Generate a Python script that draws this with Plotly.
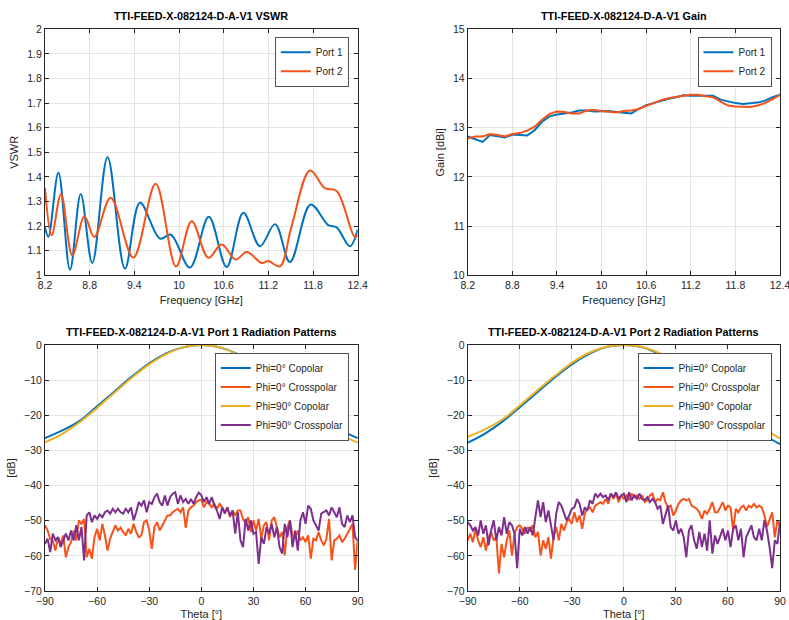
import numpy as np
import plotly.graph_objects as go

# ---------------- DATA ----------------
# VSWR (frequency GHz, VSWR) - read at curve extrema
vswr_p1_f = [8.20, 8.245, 8.38, 8.536, 8.68, 8.835, 9.04, 9.274, 9.476, 9.744, 9.89, 10.147,
             10.40, 10.64, 10.864, 11.088, 11.29, 11.49, 11.768, 12.005, 12.117, 12.296, 12.40]
vswr_p1 = [1.194, 1.157, 1.417, 1.023, 1.33, 1.05, 1.48, 1.027, 1.295, 1.149, 1.165, 1.031,
           1.238, 1.034, 1.254, 1.118, 1.208, 1.054, 1.288, 1.204, 1.195, 1.118, 1.186]
vswr_p2_f = [8.20, 8.29, 8.415, 8.567, 8.73, 8.862, 9.082, 9.386, 9.686, 9.96, 10.17, 10.394,
             10.573, 10.76, 10.91, 11.11, 11.2, 11.356, 11.51, 11.76, 11.96, 12.117, 12.36, 12.40]
vswr_p2 = [1.356, 1.163, 1.33, 1.081, 1.24, 1.156, 1.315, 1.072, 1.372, 1.036, 1.22, 1.071,
           1.125, 1.064, 1.095, 1.05, 1.058, 1.036, 1.197, 1.426, 1.354, 1.343, 1.156, 1.162]

# Gain (dBi) on a 0.1 GHz grid
gain_f = [round(8.2 + 0.1 * i, 1) for i in range(43)]
gain_p1 = [12.82, 12.76, 12.71, 12.85, 12.83, 12.80, 12.86, 12.85, 12.84, 12.95, 13.12, 13.23,
           13.27, 13.29, 13.31, 13.35, 13.35, 13.33, 13.34, 13.34, 13.32, 13.30, 13.29, 13.38,
           13.46, 13.50, 13.55, 13.59, 13.62, 13.66, 13.65, 13.65, 13.65, 13.65, 13.57, 13.53,
           13.50, 13.48, 13.49, 13.51, 13.55, 13.62, 13.67]
gain_p2 = [12.78, 12.82, 12.82, 12.87, 12.85, 12.82, 12.87, 12.89, 12.94, 13.02, 13.16, 13.28,
           13.33, 13.32, 13.29, 13.29, 13.35, 13.36, 13.34, 13.33, 13.31, 13.34, 13.35, 13.38,
           13.44, 13.50, 13.56, 13.60, 13.63, 13.65, 13.67, 13.67, 13.64, 13.62, 13.53, 13.45,
           13.43, 13.43, 13.42, 13.45, 13.50, 13.58, 13.67]

# Copolar patterns on a 10 deg grid
theta_co = list(range(-90, 91, 10))
p1_phi0_co = [-26.5, -24.3, -21.6, -17.4, -13.2, -9.0, -5.2, -2.3, -0.6, 0, -0.6, -2.4, -5.3,
              -9.1, -13.3, -17.5, -21.5, -24.2, -26.5]
p1_phi90_co = [-27.7, -25.3, -22.0, -17.9, -13.6, -9.3, -5.5, -2.5, -0.6, 0, -0.6, -2.5, -5.5,
               -9.3, -13.6, -17.9, -22.0, -25.4, -27.8]
p2_phi0_co = [-27.8, -25.2, -21.8, -17.7, -13.5, -9.3, -5.5, -2.5, -0.6, 0, -0.6, -2.5, -5.5,
              -9.3, -13.5, -17.7, -21.8, -25.4, -28.2]
p2_phi90_co = [-26.1, -24.0, -21.2, -17.2, -13.0, -8.9, -5.1, -2.2, -0.5, 0, -0.5, -2.2, -5.1,
               -8.9, -13.0, -17.2, -21.2, -23.8, -26.6]

# Crosspolar patterns on a 1.5 deg grid (-90..90)
theta_x = [round(-90 + 1.5 * i, 1) for i in range(121)]
p1_phi0_x = [-51.3, -52.8, -55.2, -55.7, -58.5, -54.7, -56.6, -54.2, -60.4, -57.5, -56.1, -52.8,
             -55.6, -49.9, -50.9, -49.5, -60.4, -58, -60.8, -54.7, -52.3, -55.6, -50.9, -54.2,
             -58.5, -55.1, -53.2, -51.3, -52.8, -52, -53.2, -54.2, -52.3, -53.7, -50.9, -53.2,
             -54.7, -54.2, -50.4, -49.9, -52.8, -58, -51.8, -50.4, -52.8, -51.3, -49.9, -48.5,
             -48.5, -47.6, -47.1, -46.6, -47.6, -46.2, -52, -47.1, -46.2, -45.7, -44.7, -44.2,
             -44.0,
             -46.2, -44.7, -45.2, -46.2, -45.2, -46.6, -45.2, -46.2, -47.6, -46.2, -49, -47.1,
             -48.5, -47.1, -47.1, -49.5, -50.9, -49, -53.2, -49.9, -52.8, -49.5, -55.1, -51.3,
             -50.4, -55.6, -49.9, -49, -51.8, -54.7, -53.2, -59.9, -51.8, -49.9, -54.2, -55.1,
             -52.8, -55.6, -54.7, -56.1, -54.2, -60.8, -55.1, -55.6, -53.2, -55.6, -57, -55.1,
             -49.5, -61.3, -55.6, -55.1, -54.2, -56.1, -55.1, -53.7, -52.3, -50.9, -64.0, -55.5]
p1_phi90_x = [-56.6, -55.1, -58.9, -53.7, -55.6, -54.7, -57.5, -55.6, -53.7, -55.6, -52.8, -55.6,
              -51.3, -55.6, -51.8, -61.3, -48.5, -47.6, -50.4, -48.5, -49.5, -48.2, -49, -47.6,
              -47.1, -48, -46.6, -47.6, -46.6, -47.6, -48, -46.6, -47.6, -46.2, -49.9, -47.6,
              -44.7, -45.7, -44.2, -47.6, -44.7, -45.2, -43.3, -42.3, -44.7, -45.7, -42.8, -45.7,
              -43.3, -42.3, -41.9, -45.2, -42.8, -44.7, -43.8, -45.2, -43.8, -45.2, -43.3, -42,
              -42.8,
              -44.7, -43.3, -45.2, -43.3, -45.7, -47.1, -49.5, -46.2, -48, -46.2, -48.5, -47.1,
              -53.7, -47.6, -55.6, -57.5, -49.5, -52.8, -49.9, -53.7, -53.2, -62.3, -54.7, -56.6,
              -51.8, -53.7, -50.9, -54.7, -51.8, -57.5, -59.4, -50.9, -54.7, -49.9, -57.5, -52.8,
              -58.5, -49.9, -47.6, -50.9, -45.7, -46.6, -49.9, -51.3, -52.8, -48, -47.6, -47.1,
              -48.5, -46.2, -47.6, -49, -46.2, -50.9, -51.8, -48.5, -50.4, -48.5, -54.7, -55.6]
p2_phi0_x = [-55.6, -53.7, -56.1, -52.3, -55.6, -57.5, -54.7, -58.5, -54.7, -53.2, -55.6, -54.7,
             -65.0, -56.6, -60.4, -55.6, -52.8, -59.9, -53.7, -51.8, -51.3, -52.3, -53.7, -51.8,
             -52.8, -51.3, -54.7, -53.2, -59.9, -55.6, -58, -54.7, -60.8, -54.7, -51.8, -55.6,
             -50.9, -52.8, -50.4, -49.5, -50.9, -47.6, -50.4, -48.5, -52.3, -48, -46.6, -46.2,
             -47.6, -45.7, -45.2, -44.7, -45.2, -43.8, -45.2, -42.3, -43.8, -42.3, -44.7, -42.8,
             -43.8,
             -42.8, -44.2, -42.3, -43.3, -42.8, -43.8, -42.8, -44.7, -44.2, -42.8, -42.3, -44.7,
             -43.8, -44.2, -41.9, -44.7, -46.2, -45.7, -48.5, -47.1, -45.2, -44.2, -43.8, -44.2,
             -43.8, -45.7, -46.2, -46.6, -47.6, -49.5, -47.1, -48, -46.6, -44.7, -47.6, -47.6,
             -46.2, -44.7, -47.1, -45.7, -46.2, -52.8, -46.6, -47.6, -46.2, -45.7, -47.1, -45.7,
             -46.2, -45.2, -46.2, -45.7, -46.2, -48.5, -51.8, -49.9, -47.6, -54.7, -49.9, -51.3]
p2_phi90_x = [-50.4, -51.3, -52.8, -51.8, -54.2, -49.9, -53.7, -51.3, -57, -52.8, -49.9, -55.6,
              -51.8, -54.2, -49, -53.7, -50.4, -51.3, -53.7, -63.5, -52.3, -54.2, -51.8, -53.7,
              -51.8, -54.2, -49, -44.2, -49, -44.7, -50.4, -47.1, -51.3, -55.6, -48, -44.7,
              -45.7, -47.6, -49.9, -48.5, -46.6, -46.2, -43.8, -45.2, -48.5, -46.2, -47.1, -44.2,
              -45.2, -42.3, -43.3, -42.3, -43.3, -42.8, -44.2, -42.3, -43.3, -41.9, -43.8, -42.8,
              -42.3,
              -44.7, -41.9, -44.2, -42.8, -43.8, -42.3, -43.8, -44.2, -43.3, -44.7, -43.8, -44.7,
              -46.6, -45.7, -50.9, -48, -45.7, -51.8, -52.8, -49.9, -53.7, -52.3, -54.7, -60.4,
              -52.8, -51.3, -55.6, -58, -53.2, -57.5, -53.7, -58.5, -49.9, -59.4, -54.2, -56.6,
              -54.2, -52.3, -55.6, -52.8, -57.5, -52.3, -51.3, -55.6, -52.3, -60.4, -54.7, -53.2,
              -51.3, -54.7, -55.6, -52.3, -55.6, -49.9, -52.8, -57.5, -63.5, -55.6, -56.6, -50.4]

freq_ticks = [8.2, 8.8, 9.4, 10, 10.6, 11.2, 11.8, 12.4]
freq_ticklabels = ["8.2", "8.8", "9.4", "10", "10.6", "11.2", "11.8", "12.4"]
vswr_ticks = [1 + 0.1 * i for i in range(11)]
vswr_ticklabels = ["1", "1.1", "1.2", "1.3", "1.4", "1.5", "1.6", "1.7", "1.8", "1.9", "2"]
theta_ticks = [-90, -60, -30, 0, 30, 60, 90]

titles = ["TTI-FEED-X-082124-D-A-V1 VSWR",
          "TTI-FEED-X-082124-D-A-V1 Gain",
          "TTI-FEED-X-082124-D-A-V1 Port 1 Radiation Patterns",
          "TTI-FEED-X-082124-D-A-V1 Port 2 Radiation Patterns"]

# ---------------- STYLE ----------------
BLUE = "#0072BD"
ORANGE = "#F5531A"
YELLOW = "#EDB120"
PURPLE = "#7E2F8E"
TXT = "#262626"
GRID = "#E3E3E3"
FONT = "Liberation Sans, Arial, Helvetica, sans-serif"

W, H = 789, 620
ML, MR, MT, MB = 45, 9, 29, 29
PW, PH = W - ML - MR, H - MT - MB

def px_x(p):
    return (p - ML) / PW

def px_y(p):
    return (H - MB - p) / PH

dom_x = [[px_x(45), px_x(357.7)], [px_x(467.7), px_x(780)]]
dom_y_top = [px_y(275.3), px_y(29.3)]
dom_y_bot = [px_y(591), px_y(345)]

fig = go.Figure()

def add(x, y, name, color, ax, legend, shape="linear", width=2):
    fig.add_trace(go.Scatter(x=x, y=y, name=name, mode="lines",
                             line=dict(color=color, width=width, shape=shape, smoothing=1.0),
                             xaxis="x" + ax, yaxis="y" + ax, legend=legend))

add(vswr_p1_f, vswr_p1, "Port 1", BLUE, "", "legend", "spline")
add(vswr_p2_f, vswr_p2, "Port 2", ORANGE, "", "legend", "spline")
add(gain_f, gain_p1, "Port 1", BLUE, "2", "legend2")
add(gain_f, gain_p2, "Port 2", ORANGE, "2", "legend2")
add(theta_co, p1_phi0_co, "Phi=0° Copolar", BLUE, "3", "legend3", "spline")
add(theta_x, p1_phi0_x, "Phi=0° Crosspolar", ORANGE, "3", "legend3")
add(theta_co, p1_phi90_co, "Phi=90° Copolar", YELLOW, "3", "legend3", "spline")
add(theta_x, p1_phi90_x, "Phi=90° Crosspolar", PURPLE, "3", "legend3")
add(theta_co, p2_phi0_co, "Phi=0° Copolar", BLUE, "4", "legend4", "spline")
add(theta_x, p2_phi0_x, "Phi=0° Crosspolar", ORANGE, "4", "legend4")
add(theta_co, p2_phi90_co, "Phi=90° Copolar", YELLOW, "4", "legend4", "spline")
add(theta_x, p2_phi90_x, "Phi=90° Crosspolar", PURPLE, "4", "legend4")

axis_common = dict(showgrid=True, gridcolor=GRID, gridwidth=1, showline=True, linecolor=TXT,
                   linewidth=1, mirror="ticks", ticks="inside", ticklen=4, tickcolor=TXT,
                   tickfont=dict(family=FONT, size=10.5, color=TXT), zeroline=False,
                   automargin=False, ticklabeloverflow="allow",
                   title_font=dict(family=FONT, size=11, color=TXT))

layout = dict(
    width=W, height=H, paper_bgcolor="white", plot_bgcolor="white",
    margin=dict(l=ML, r=MR, t=MT, b=MB), font=dict(family=FONT, color=TXT),
    xaxis=dict(axis_common, domain=dom_x[0], anchor="y", range=[8.2, 12.4], tickvals=freq_ticks,
               ticktext=freq_ticklabels, title=dict(text="Frequency [GHz]", standoff=6)),
    yaxis=dict(axis_common, domain=dom_y_top, anchor="x", range=[1, 2], tickvals=vswr_ticks,
               ticktext=vswr_ticklabels, title=dict(text="VSWR", standoff=6)),
    xaxis2=dict(axis_common, domain=dom_x[1], anchor="y2", range=[8.2, 12.4], tickvals=freq_ticks,
                ticktext=freq_ticklabels, title=dict(text="Frequency [GHz]", standoff=6)),
    yaxis2=dict(axis_common, domain=dom_y_top, anchor="x2", range=[10, 15], dtick=1,
                title=dict(text="Gain [dBi]", standoff=6)),
    xaxis3=dict(axis_common, domain=dom_x[0], anchor="y3", range=[-90, 90], tickvals=theta_ticks,
                title=dict(text="Theta [°]", standoff=6)),
    yaxis3=dict(axis_common, domain=dom_y_bot, anchor="x3", range=[-70, 0], dtick=10,
                title=dict(text="[dB]", standoff=6)),
    xaxis4=dict(axis_common, domain=dom_x[1], anchor="y4", range=[-90, 90], tickvals=theta_ticks,
                title=dict(text="Theta [°]", standoff=6)),
    yaxis4=dict(axis_common, domain=dom_y_bot, anchor="x4", range=[-70, 0], dtick=10,
                title=dict(text="[dB]", standoff=6)),
    showlegend=True,
)

leg_common = dict(bgcolor="white", bordercolor=TXT, borderwidth=0.8,
                  font=dict(family=FONT, size=10, color=TXT), xanchor="right", yanchor="top",
                  tracegroupgap=0, itemwidth=30)
layout["legend"] = dict(leg_common, x=px_x(349), y=px_y(37))
layout["legend2"] = dict(leg_common, x=px_x(771.7), y=px_y(37))
layout["legend3"] = dict(leg_common, x=px_x(349), y=px_y(352.7))
layout["legend4"] = dict(leg_common, x=px_x(771.7), y=px_y(352.7))

fig.update_layout(**layout)

title_pos = [((45 + 357.7) / 2, 16), ((467.7 + 780) / 2, 16),
             ((45 + 357.7) / 2, 331.7), ((467.7 + 780) / 2, 331.7)]
for t, (cx, cy) in zip(titles, title_pos):
    fig.add_annotation(text="<b>" + t + "</b>", x=px_x(cx), y=px_y(cy), xref="paper", yref="paper",
                       xanchor="center", yanchor="middle", showarrow=False,
                       font=dict(family=FONT, size=10.8, color="#000000"))

fig.write_html("out.html", config={"displayModeBar": False},
               post_script="document.body.style.margin='0';document.body.style.overflow='hidden';")
